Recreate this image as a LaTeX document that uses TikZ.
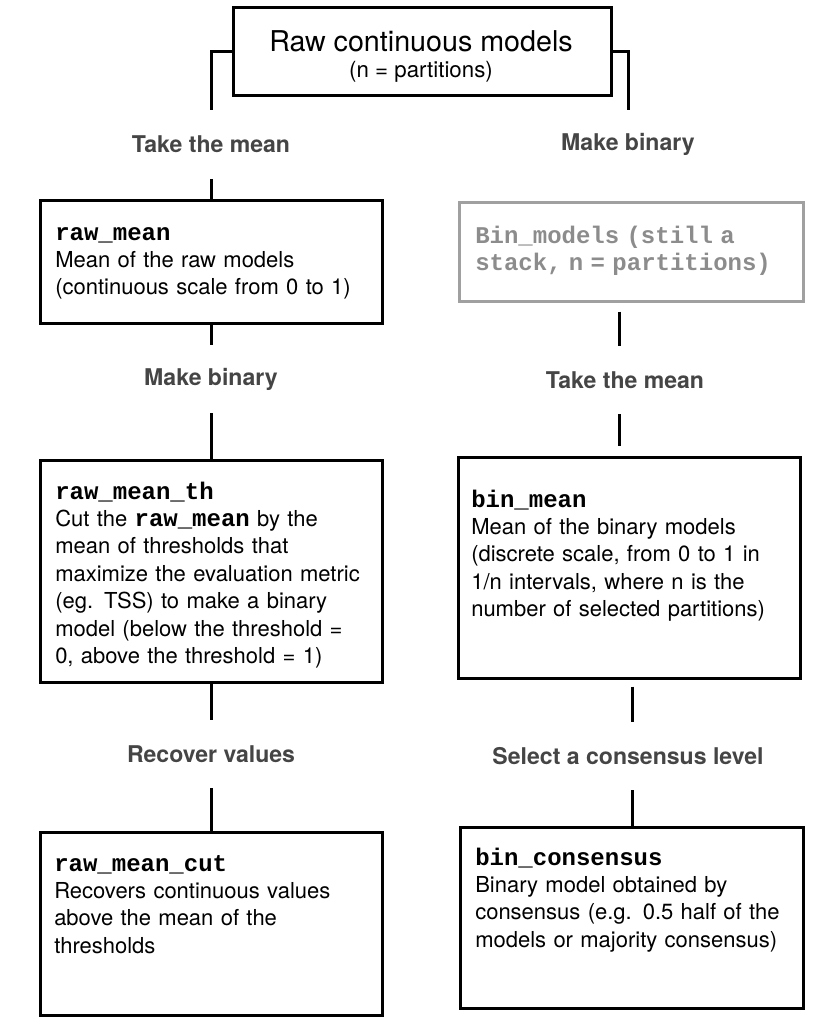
\documentclass[tikz,border=0pt]{standalone}
\usepackage{fontspec}
\setmainfont{TeX Gyre Heros}
\setmonofont{Liberation Mono}
\usepackage{tikz}

\definecolor{lblgray}{HTML}{454545}
\definecolor{boxgray}{HTML}{A0A0A0}
\definecolor{txtgray}{HTML}{8C8C8C}

\newcommand{\modname}[1]{{\fontsize{18pt}{20.6pt}\selectfont\ttfamily\bfseries #1}}

\begin{document}
\begin{tikzpicture}[x=0.75pt,y=0.75pt,yscale=-1,xscale=1,
  box/.style={draw, line width=2.25pt, inner sep=0pt},
  txt/.style={anchor=base west, inner sep=0pt, text width=245pt, align=left, font=\fontsize{16.5pt}{20.6pt}\selectfont},
  lbl/.style={inner sep=0pt, minimum height=51pt, text=lblgray, font=\fontsize{17.3pt}{20pt}\selectfont\bfseries},
  con/.style={line width=2.25pt}]
\useasboundingbox (0,0) rectangle (832,1018);

% boxes
\node[box, minimum width=283.5pt, minimum height=66pt] (raw) at (422,51) {};
\node[box, minimum width=256.5pt, minimum height=92.25pt] (rawmean) at (211,261.5) {};
\node[box, minimum width=256.5pt, minimum height=166.5pt] (rawmeanth) at (211,571) {};
\node[box, minimum width=256.5pt, minimum height=137.25pt] (rawmeancut) at (211,923.5) {};
\node[box, draw=boxgray, minimum width=258pt, minimum height=74.25pt] (binmodels) at (631,251.5) {};
\node[box, minimum width=256.5pt, minimum height=165.75pt] (binmean) at (629,567.5) {};
\node[box, minimum width=257.25pt, minimum height=135.75pt] (binconsensus) at (631.5,917.5) {};

% box texts
\node[inner sep=0pt, anchor=base, font=\fontsize{21.5pt}{24pt}\selectfont] (rawtitle) at (421,51) {Raw continuous models};
\node[inner sep=0pt, anchor=base, font=\fontsize{16.7pt}{20pt}\selectfont] (rawsub) at (421,77) {(n = partitions)};
\node[txt] (rawmeantxt) at (55,240) {\modname{raw\_mean}\\
  Mean of the raw models\\
  (continuous scale from 0 to 1)};
\node[txt] (rawmeanthtxt) at (55,499) {\modname{raw\_mean\_th}\\
  Cut the \modname{raw\_mean} by the\\
  mean of thresholds that\\
  maximize the evaluation metric\\
  (eg. TSS) to make a binary\\
  model (below the threshold =\\
  0, above the threshold = 1)};
\node[txt] (rawmeancuttxt) at (54,871) {\modname{raw\_mean\_cut}\\
  Recovers continuous values\\
  above the mean of the\\
  thresholds};
\node[txt, text=txtgray] (binmodelstxt) at (475,243) {\modname{Bin\_models (still a}\\
  \modname{stack, n = partitions)}};
\node[txt] (binmeantxt) at (471,507) {\modname{bin\_mean}\\
  Mean of the binary models\\
  (discrete scale, from 0 to 1 in\\
  1/n intervals, where n is the\\
  number of selected partitions)};
\node[txt] (binconsensustxt) at (475,865) {\modname{bin\_consensus}\\
  Binary model obtained by\\
  consensus (e.g. 0.5 half of the\\
  models or majority consensus)};

% step labels
\node[lbl] (L1) at (211,144.5) {Take the mean};
\node[lbl] (L2) at (211,379) {Make binary};
\node[lbl] (L3) at (211,754) {Recover values};
\node[lbl] (R1) at (628,144) {Make binary};
\node[lbl] (R2) at (625,380) {Take the mean};
\node[lbl] (R3) at (628,756) {Select a consensus level};

% connectors
\coordinate (ra) at (619,0);
\coordinate (rb) at (632,0);
\draw[con] (raw.west) -| (L1.north);
\draw[con] (raw.east) -| (R1.north);
\draw[con] (L1.south) -- (rawmean.north);
\draw[con] (rawmean.south) -- (L2.north);
\draw[con] (L2.south) -- (rawmeanth.north);
\draw[con] (rawmeanth.south) -- (L3.north);
\draw[con] (L3.south) -- (rawmeancut.north);
\draw[con, shorten <=6.75pt] (binmodels.south -| ra) -- (R2.north -| ra);
\draw[con, shorten >=7.5pt] (R2.south -| ra) -- (binmean.north -| ra);
\draw[con, shorten <=5.25pt] (binmean.south -| rb) -- (R3.north -| rb);
\draw[con] (R3.south -| rb) -- (binconsensus.north -| rb);
\end{tikzpicture}
\end{document}
